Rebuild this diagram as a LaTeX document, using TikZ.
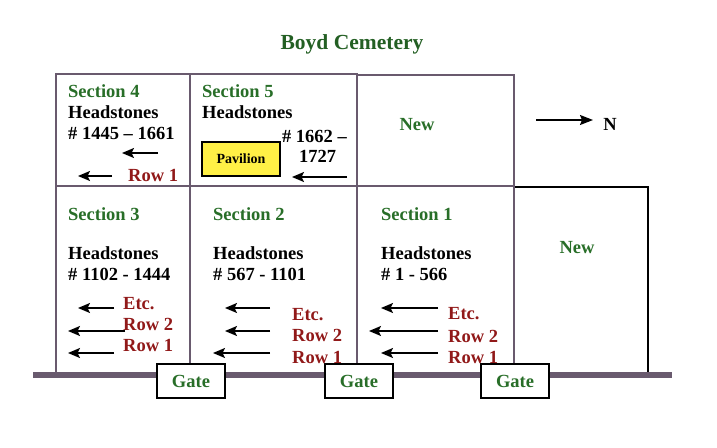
\documentclass[tikz,border=0pt]{standalone}
\usepackage{fontspec}
\setmainfont{Liberation Serif}
\usetikzlibrary{arrows.meta}
\definecolor{secgreen}{RGB}{40,110,40}
\definecolor{titlegreen}{RGB}{35,95,35}
\definecolor{rowred}{RGB}{145,25,25}
\definecolor{gridline}{RGB}{105,90,110}
\definecolor{pavyellow}{RGB}{255,240,70}
\tikzset{
  grid/.style={draw=gridline, line width=2.6pt},
  newbox/.style={draw=black, line width=1.6pt},
  txt/.style={font=\fontsize{18.5}{18}\selectfont\bfseries, inner sep=0pt, anchor=base west},
  sectxt/.style={txt, text=secgreen},
  rowtxt/.style={txt, text=rowred},
  rowarrow/.style={line width=1.8pt, -{Stealth[length=12pt,width=10pt,inset=2.5pt]}},
  gatebox/.style={draw=black, line width=1.6pt, fill=white, minimum width=68pt, minimum height=34pt, inner sep=0pt, font=\fontsize{18.5}{18}\selectfont\bfseries, text=secgreen},
}
\begin{document}
\begin{tikzpicture}[x=1pt,y=-1pt]
\useasboundingbox (0,0) rectangle (717,447);
% title
\node[font=\fontsize{21.5}{21}\selectfont\bfseries, text=titlegreen, inner sep=0pt] (title) at (352,44) {Boyd Cemetery};
% right New box
\draw[newbox] (514,187) rectangle (648,375);
% grid
\draw[grid] (56,74) rectangle (190,186);
\draw[grid] (190,74) rectangle (357,186);
\draw[grid] (357,75) rectangle (514,186);
\draw[grid] (56,186) rectangle (190,375);
\draw[grid] (190,186) rectangle (357,375);
\draw[grid] (357,186) rectangle (514,375);
% ground line
\draw[draw=gridline, line width=6pt] (33,375) -- (672,375);
% gates
\node[gatebox] (gate1) at (191,381) {Gate};
\node[gatebox] (gate2) at (359,381) {Gate};
\node[gatebox] (gate3) at (515,381) {Gate};
% Section 4
\node[sectxt] (s4) at (68,97) {Section 4};
\node[txt] (s4h) at (68,118) {Headstones};
\node[txt] (s4n) at (68,139) {\# 1445 -- 1661};
\draw[rowarrow] (158,153) -- (122,153);
\draw[rowarrow] (112,176) -- (78,176);
\node[rowtxt] (s4r1) at (128,181) {Row 1};
% Section 5
\node[sectxt] (s5) at (202,97) {Section 5};
\node[txt] (s5h) at (202,118) {Headstones};
\node[txt, anchor=base east] (s5n) at (347,142) {\# 1662 --};
\node[txt] (s5m) at (299,162) {1727};
\node[draw=black, line width=1.4pt, fill=pavyellow, minimum width=78pt, minimum height=34pt, inner sep=0pt, font=\fontsize{14}{14}\selectfont\bfseries] (pav) at (241,159) {Pavilion};
\draw[rowarrow] (347,177) -- (292,177);
% New top
\node[font=\fontsize{18.5}{18}\selectfont\bfseries, text=secgreen, inner sep=0pt] (new1) at (417,125) {New};
% North arrow
\coordinate (na) at (536,120);
\node[font=\fontsize{18.5}{18}\selectfont\bfseries, inner sep=0pt] (north) at (610,124) {N};
\draw[line width=1.5pt, -{Stealth[length=13pt,width=10pt,inset=2pt]}] (na) -- (593,120);
% Section 3
\node[sectxt] (s3) at (68,220) {Section 3};
\node[txt] (s3h) at (68,259) {Headstones};
\node[txt] (s3n) at (68,280) {\# 1102 - 1444};
\draw[rowarrow] (114,308) -- (78,308);
\draw[rowarrow] (125,331) -- (68,331);
\draw[rowarrow] (114,353) -- (68,353);
\node[rowtxt] (s3e) at (123,309) {Etc.};
\node[rowtxt] (s3r2) at (123,330) {Row 2};
\node[rowtxt] (s3r1) at (123,351) {Row 1};
% Section 2
\node[sectxt] (s2) at (213,220) {Section 2};
\node[txt] (s2h) at (213,259) {Headstones};
\node[txt] (s2n) at (213,280) {\# 567 - 1101};
\draw[rowarrow] (270,308) -- (225,308);
\draw[rowarrow] (270,331) -- (225,331);
\draw[rowarrow] (270,353) -- (213,353);
\node[rowtxt] (s2e) at (292,320) {Etc.};
\node[rowtxt] (s2r2) at (292,341) {Row 2};
\node[rowtxt] (s2r1) at (292,363) {Row 1};
% Section 1
\node[sectxt] (s1) at (381,220) {Section 1};
\node[txt] (s1h) at (381,259) {Headstones};
\node[txt] (s1n) at (381,280) {\# 1 - 566};
\draw[rowarrow] (438,308) -- (381,308);
\draw[rowarrow] (438,331) -- (369,331);
\draw[rowarrow] (438,353) -- (381,353);
\node[rowtxt] (s1e) at (448,319) {Etc.};
\node[rowtxt] (s1r2) at (448,342) {Row 2};
\node[rowtxt] (s1r1) at (448,363) {Row 1};
% New right
\node[font=\fontsize{18.5}{18}\selectfont\bfseries, text=secgreen, inner sep=0pt] (new2) at (577,248) {New};
\end{tikzpicture}
\end{document}
